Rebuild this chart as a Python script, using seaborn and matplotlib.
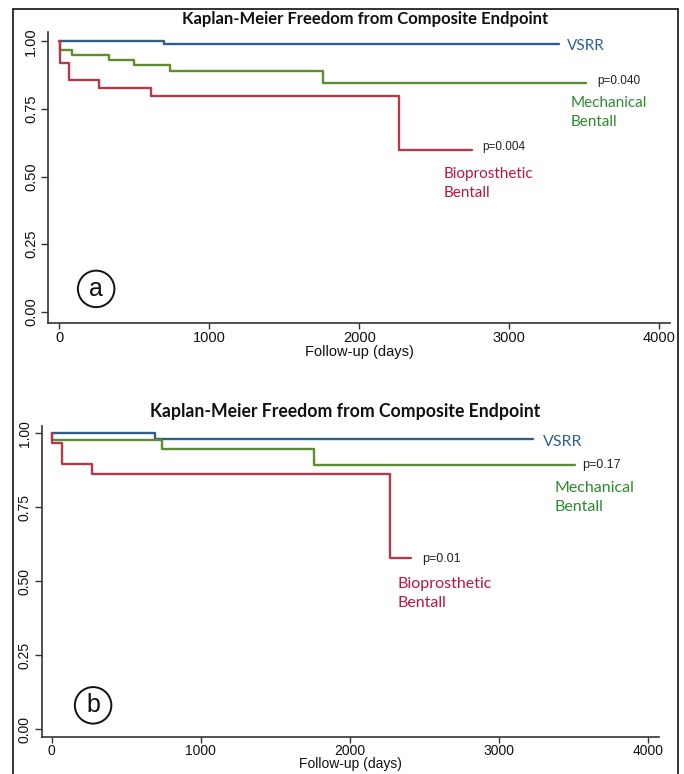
import numpy as np
import pandas as pd
import matplotlib
matplotlib.use("Agg")
import matplotlib.pyplot as plt
import seaborn as sns
from matplotlib.lines import Line2D

# ---------------- data ----------------
title = "Kaplan-Meier Freedom from Composite Endpoint"
groups = ["VSRR", "Mechanical Bentall", "Bioprosthetic Bentall"]
xticks = [0, 1000, 2000, 3000, 4000]
yticks = [0.0, 0.25, 0.50, 0.75, 1.0]
ytick_labels = ["0.00", "0.25", "0.50", "0.75", "1.00"]
xlabel = "Follow-up (days)"

# panel (a)
a_vsrr_t = [0, 700, 3330]
a_vsrr_s = [1.0, 0.988, 0.988]
a_mech_t = [0, 4, 83, 329, 500, 738, 1756, 3511]
a_mech_s = [1.0, 0.967, 0.950, 0.931, 0.913, 0.890, 0.847, 0.847]
a_bio_t = [0, 4, 67, 267, 609, 2265, 2749]
a_bio_s = [1.0, 0.918, 0.857, 0.828, 0.796, 0.599, 0.599]
a_pvals = ["p=0.040", "p=0.004"]

# panel (b)
b_vsrr_t = [0, 693, 3232]
b_vsrr_s = [1.0, 0.982, 0.982]
b_mech_t = [0, 5, 738, 1760, 3512]
b_mech_s = [1.0, 0.977, 0.947, 0.893, 0.893]
b_bio_t = [0, 5, 67, 273, 2270, 2411]
b_bio_s = [1.0, 0.966, 0.897, 0.862, 0.578, 0.578]
b_pvals = ["p=0.17", "p=0.01"]

line_colors = {"VSRR": "#2f5d8c", "Mechanical Bentall": "#5e8c31",
               "Bioprosthetic Bentall": "#b5394a"}
text_colors = {"VSRR": "#2f5f95", "Mechanical Bentall": "#2e8a2e",
               "Bioprosthetic Bentall": "#b5173f"}


def frame(tlists, slists):
    rows = []
    for g, ts, ss in zip(groups, tlists, slists):
        for t, s in zip(ts, ss):
            rows.append({"group": g, "t": t, "s": s})
    return pd.DataFrame(rows)


df_a = frame([a_vsrr_t, a_mech_t, a_bio_t], [a_vsrr_s, a_mech_s, a_bio_s])
df_b = frame([b_vsrr_t, b_mech_t, b_bio_t], [b_vsrr_s, b_mech_s, b_bio_s])

# ---------------- style ----------------
sns.set_theme(style="white")
plt.rcParams["font.family"] = ["Liberation Sans", "DejaVu Sans"]

fig = plt.figure(figsize=(6.84, 7.74), dpi=100)
W, H = 684.0, 774.0


def fx(px):
    return px / W


def fy(py):
    return 1 - py / H


axA = fig.add_axes([fx(48), fy(323), fx(670) - fx(48), fy(32) - fy(323)])
axB = fig.add_axes([fx(41.7), fy(737), fx(659) - fx(41.7), fy(425.7) - fy(737)])


def style_axis(ax, xlim, ylim, tick_size, xpad, lpad):
    ax.set_xlim(*xlim)
    ax.set_ylim(*ylim)
    for side in ["top", "right"]:
        ax.spines[side].set_visible(False)
    for side in ["left", "bottom"]:
        ax.spines[side].set_color("#333333")
        ax.spines[side].set_linewidth(1.2)
    ax.set_xticks(xticks)
    ax.set_xticklabels([str(v) for v in xticks], fontsize=tick_size)
    ax.set_yticks(yticks)
    ax.set_yticklabels(ytick_labels, rotation=90, va="center", fontsize=tick_size)
    ax.tick_params(axis="both", direction="out", length=5, width=1.0,
                   color="#333333", labelcolor="#111111", pad=2,
                   bottom=True, left=True)
    ax.tick_params(axis="x", pad=xpad, length=4)
    ax.set_xlabel(xlabel, fontsize=tick_size, labelpad=lpad, color="#111111")
    ax.set_ylabel("")
    ax.grid(False)


for ax, df in [(axA, df_a), (axB, df_b)]:
    sns.lineplot(data=df, x="t", y="s", hue="group", palette=line_colors,
                 estimator=None, sort=False, drawstyle="steps-post",
                 linewidth=1.7, legend=False, ax=ax)

style_axis(axA, (-76, 4071), (-0.041, 1.034), 10.5, 2, 0)
style_axis(axB, (-67, 4076), (-0.026, 1.026), 10, 1, -0.5)

lab_font = ["Lato", "DejaVu Sans"]

# panel (a) annotations
axA.text(3385, 0.983, "VSRR", color=text_colors["VSRR"], family=lab_font,
         fontsize=11, ha="left", va="center")
axA.text(3585, 0.853, a_pvals[0], color="#222222", fontsize=8.5, ha="left", va="center")
axA.text(3411, 0.735, "Mechanical\nBentall", color=text_colors["Mechanical Bentall"],
         family=lab_font, fontsize=11, ha="left", va="center", linespacing=1.45)
axA.text(2818, 0.61, a_pvals[1], color="#222222", fontsize=8.5, ha="left", va="center")
axA.text(2565, 0.473, "Bioprosthetic\nBentall", color=text_colors["Bioprosthetic Bentall"],
         family=lab_font, fontsize=11, ha="left", va="center", linespacing=1.45)
axA.text(245, 0.085, "a", ha="center", va="center", fontsize=18, color="#111111",
         bbox=dict(boxstyle="circle,pad=0.25", fc="none", ec="#111111", lw=1.4))

# panel (b) annotations
axB.text(3295, 0.972, "VSRR", color=text_colors["VSRR"], family=lab_font,
         fontsize=11.5, ha="left", va="center")
axB.text(3559, 0.893, b_pvals[0], color="#222222", fontsize=9, ha="left", va="center")
axB.text(3378, 0.782, "Mechanical\nBentall", color=text_colors["Mechanical Bentall"],
         family=lab_font, fontsize=11.5, ha="left", va="center", linespacing=1.45)
axB.text(2485, 0.574, b_pvals[1], color="#222222", fontsize=9, ha="left", va="center")
axB.text(2324, 0.459, "Bioprosthetic\nBentall", color=text_colors["Bioprosthetic Bentall"],
         family=lab_font, fontsize=11.5, ha="left", va="center", linespacing=1.45)
axB.text(278, 0.081, "b", ha="center", va="center", fontsize=18, color="#111111",
         bbox=dict(boxstyle="circle,pad=0.25", fc="none", ec="#111111", lw=1.4))

# titles
fig.text(fx(365), fy(19), title, ha="center", va="center", fontweight="bold",
         family=lab_font, fontsize=12, color="#111111")
fig.text(fx(345), fy(412), title, ha="center", va="center", fontweight="bold",
         family=lab_font, fontsize=12.7, color="#111111")

# outer frame
fc = "#111111"
fig.add_artist(Line2D([fx(12.5), fx(12.5)], [0, fy(9)], transform=fig.transFigure, color=fc, lw=1.2))
fig.add_artist(Line2D([fx(12.5), fx(677.5)], [fy(9), fy(9)], transform=fig.transFigure, color=fc, lw=1.2))
fig.add_artist(Line2D([fx(677.5), fx(677.5)], [fy(9), 0], transform=fig.transFigure, color=fc, lw=1.2))

fig.savefig("out.png", dpi=100)
